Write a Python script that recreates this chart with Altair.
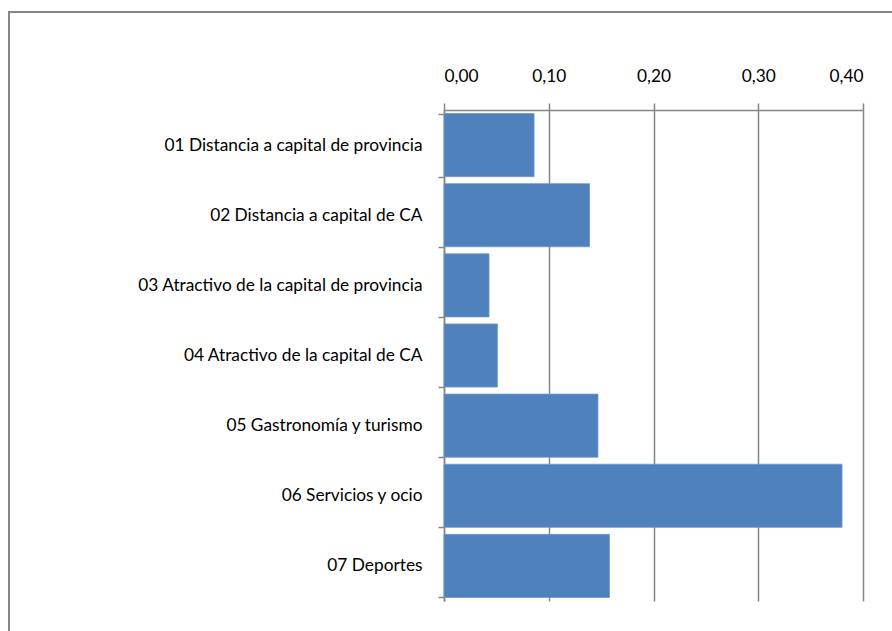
import altair as alt
import pandas as pd

categories = [
    "01 Distancia a capital de provincia",
    "02 Distancia a capital de CA",
    "03 Atractivo de la capital de provincia",
    "04 Atractivo de la capital de CA",
    "05 Gastronomía y turismo",
    "06 Servicios y ocio",
    "07 Deportes",
]
values = [0.086, 0.139, 0.043, 0.051, 0.147, 0.380, 0.158]
tick_values = [0.0, 0.1, 0.2, 0.3, 0.4]

df = pd.DataFrame({"cat": categories, "val": values})

FONT = "Lato"
FS = 17.3
GRAY = "#868686"

bars = alt.Chart(df).mark_bar(color="#4F81BD", stroke="#6E98CC", strokeWidth=0.8).encode(
    x=alt.X(
        "val:Q",
        scale=alt.Scale(domain=[0, 0.4], nice=False),
        axis=alt.Axis(
            orient="top",
            values=tick_values,
            labelExpr="replace(format(datum.value, '.2f'), '.', ',')",
            title=None,
            grid=True,
            gridColor=GRAY,
            gridWidth=1.5,
            domainColor=GRAY,
            domainWidth=1.5,
            tickColor=GRAY,
            tickWidth=1.5,
            tickSize=7,
            labelPadding=18,
            labelFont=FONT,
            labelFontSize=FS,
            labelColor="black",
        ),
    ),
    y=alt.Y(
        "cat:N",
        sort=categories,
        scale=alt.Scale(paddingInner=0.1, paddingOuter=0.05),
        axis=alt.Axis(
            title=None,
            tickBand="extent",
            domainColor=GRAY,
            domainWidth=1.5,
            tickColor=GRAY,
            tickWidth=1.5,
            tickSize=6,
            labelPadding=16,
            labelFont=FONT,
            labelFontSize=FS,
            labelColor="black",
            labelLimit=400,
        ),
    ),
)

frame = alt.Chart(df).mark_rect(fill=None, stroke=GRAY, strokeWidth=2).encode(
    x=alt.value(-435), x2=alt.value(470), y=alt.value(-98), y2=alt.value(540)
)

chart = alt.layer(frame, bars).properties(
    width=419,
    height=491,
    padding={"left": 444, "top": 110, "right": 29, "bottom": 30},
    autosize=alt.AutoSizeParams(type="none"),
).configure_view(stroke=None)

chart.save("out.html", embed_options={"renderer": "svg", "actions": False})
